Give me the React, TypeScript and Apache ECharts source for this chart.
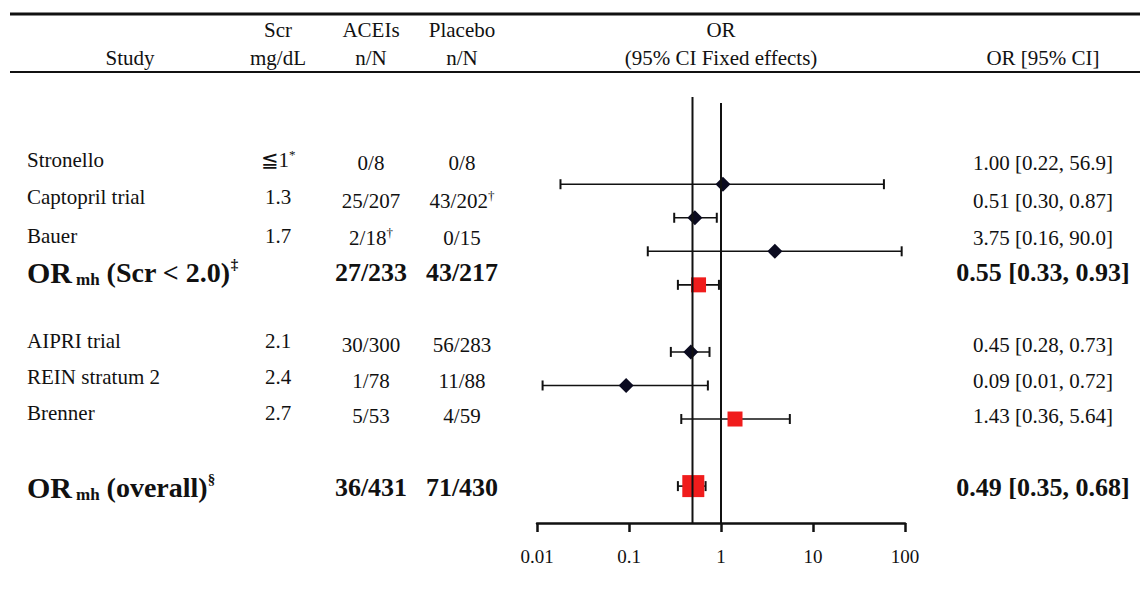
import React, { useEffect, useRef } from 'react';
import * as echarts from 'echarts';

// ---------- data ----------
const studyNames = ['Stronello', 'Captopril trial', 'Bauer', 'OR', 'AIPRI trial', 'REIN stratum 2', 'Brenner', 'OR'];
const pooled = [false, false, false, true, false, false, false, true];
const pooledSuffix = ['', '', '', '(Scr < 2.0)', '', '', '', '(overall)'];
const studyNotes = ['', '', '', '‡', '', '', '', '§'];
const scrValues = ['≦1', '1.3', '1.7', '', '2.1', '2.4', '2.7', ''];
const scrNotes = ['*', '', '', '', '', '', '', ''];
const aceiValues = ['0/8', '25/207', '2/18', '27/233', '30/300', '1/78', '5/53', '36/431'];
const aceiNotes = ['', '', '†', '', '', '', '', ''];
const placeboValues = ['0/8', '43/202', '0/15', '43/217', '56/283', '11/88', '4/59', '71/430'];
const placeboNotes = ['', '†', '', '', '', '', '', ''];
const orTexts = [
  '1.00 [0.22, 56.9]', '0.51 [0.30, 0.87]', '3.75 [0.16, 90.0]', '0.55 [0.33, 0.93]',
  '0.45 [0.28, 0.73]', '0.09 [0.01, 0.72]', '1.43 [0.36, 5.64]', '0.49 [0.35, 0.68]',
];
// plotted values (as drawn)
const rowIndex = [0, 1, 2, 3, 5, 6, 7, 9];
const orPoint = [1.05, 0.52, 3.85, 0.57, 0.47, 0.093, 1.42, 0.5];
const ciLow = [0.018, 0.31, 0.16, 0.34, 0.285, 0.0115, 0.37, 0.34];
const ciHigh = [59, 0.9, 92, 0.95, 0.75, 0.72, 5.6, 0.68];
const refLines = [0.49, 1];
const refLineTop = [-2.6, -2.42];

// ---------- layout ----------
const W = 1140;
const H = 602;
const FONT = "'Liberation Serif', 'Times New Roman', serif";
const textRowY = [160, 197, 236, 272, 341, 377, 413, 487];
const numRowY = [163, 201, 238, 272, 345, 381, 416, 487];
const colStudy = 27;
const colScr = 278;
const colAcei = 371;
const colPlacebo = 462;
const colOr = 1043;
const Y_MIN = -2.6;
const Y_MAX = 10.1;
const NORMAL = 21;
const BOLD = 26;

function richText(main: string, note: string, bold: boolean) {
  return {
    text: note ? `{m|${main}}{s|${note}}` : `{m|${main}}`,
    rich: {
      m: {
        fontFamily: FONT,
        fontSize: bold ? BOLD : NORMAL,
        fontWeight: bold ? 'bold' : 'normal',
        fill: '#111',
        lineHeight: bold ? 28 : 24,
      },
      s: {
        fontFamily: FONT,
        fontSize: bold ? 15 : 13,
        fontWeight: bold ? 'bold' : 'normal',
        fill: '#111',
        lineHeight: 13,
        verticalAlign: 'top',
      },
    },
  };
}

function buildGraphics() {
  const els: any[] = [];
  const header = (text: string, x: number, y: number) => ({
    type: 'text',
    x,
    y,
    style: { text, font: `${NORMAL}px ${FONT}`, fill: '#111', align: 'center', verticalAlign: 'middle' },
  });
  els.push({ type: 'line', shape: { x1: 10, y1: 14, x2: W, y2: 14 }, style: { stroke: '#111', lineWidth: 3 } });
  els.push({ type: 'line', shape: { x1: 10, y1: 72, x2: W, y2: 72 }, style: { stroke: '#111', lineWidth: 2 } });
  els.push(header('Scr', colScr, 30));
  els.push(header('ACEIs', colAcei, 30));
  els.push(header('Placebo', colPlacebo, 30));
  els.push(header('OR', 721, 30));
  els.push(header('Study', 130, 58));
  els.push(header('mg/dL', colScr, 58));
  els.push(header('n/N', colAcei, 58));
  els.push(header('n/N', colPlacebo, 58));
  els.push(header('(95% CI Fixed effects)', 721, 58));
  els.push(header('OR [95% CI]', colOr, 58));

  studyNames.forEach((name, i) => {
    const bold = pooled[i];
    const y = textRowY[i];
    const ny = numRowY[i];
    if (bold) {
      els.push({
        type: 'text',
        x: colStudy,
        y,
        style: {
          text: `{a|${name}}{b|mh}{c| ${pooledSuffix[i]}}{d|${studyNotes[i]}}`,
          align: 'left',
          verticalAlign: 'middle',
          rich: {
            a: { fontFamily: FONT, fontSize: 30, fontWeight: 'bold', fill: '#111', lineHeight: 32 },
            b: { fontFamily: FONT, fontSize: 17, fontWeight: 'bold', fill: '#111', lineHeight: 17, verticalAlign: 'bottom', padding: [0, 0, 0, 4] },
            c: { fontFamily: FONT, fontSize: 28, fontWeight: 'bold', fill: '#111', lineHeight: 32 },
            d: { fontFamily: FONT, fontSize: 15, fontWeight: 'bold', fill: '#111', lineHeight: 15, verticalAlign: 'top' },
          },
        },
      });
    } else {
      els.push({
        type: 'text',
        x: colStudy,
        y,
        style: { text: name, font: `${NORMAL}px ${FONT}`, fill: '#111', align: 'left', verticalAlign: 'middle' },
      });
    }
    if (scrValues[i]) {
      els.push({
        type: 'text',
        x: colScr,
        y,
        style: { ...richText(scrValues[i], scrNotes[i], false), align: 'center', verticalAlign: 'middle' },
      });
    }
    els.push({
      type: 'text',
      x: colAcei,
      y: ny,
      style: { ...richText(aceiValues[i], aceiNotes[i], bold), align: 'center', verticalAlign: 'middle' },
    });
    els.push({
      type: 'text',
      x: colPlacebo,
      y: ny,
      style: { ...richText(placeboValues[i], placeboNotes[i], bold), align: 'center', verticalAlign: 'middle' },
    });
    els.push({
      type: 'text',
      x: colOr,
      y: ny,
      style: {
        text: orTexts[i],
        font: `${bold ? `bold ${BOLD}px` : `${NORMAL}px`} ${FONT}`,
        fill: '#111',
        align: 'center',
        verticalAlign: 'middle',
      },
    });
  });
  return els;
}

export default function App() {
  const ref = useRef<HTMLDivElement>(null);
  useEffect(() => {
    if (!ref.current) return;
    const chart = echarts.init(ref.current, undefined, { renderer: 'svg' });
    const ciData = ciLow.map((lo, i) => [lo, ciHigh[i], rowIndex[i]]);
    const squareIdx = orPoint.map((_, i) => i).filter((i) => pooled[i] || studyNames[i] === 'Brenner');
    const squareData = squareIdx.map((i) => [orPoint[i], rowIndex[i]]);
    const diamondIdx = orPoint.map((_, i) => i).filter((i) => !squareIdx.includes(i));
    const diamondData = diamondIdx.map((i) => [orPoint[i], rowIndex[i]]);

    const option: any = {
      animation: false,
      backgroundColor: '#fff',
      grid: { left: 537, right: W - 905, top: 97, bottom: H - 523 },
      xAxis: {
        type: 'log',
        logBase: 10,
        min: 0.01,
        max: 100,
        axisLine: { show: true, onZero: false, lineStyle: { color: '#111', width: 2.5 } },
        axisTick: { show: true, inside: false, length: 9, lineStyle: { color: '#111', width: 2.5 } },
        axisLabel: {
          color: '#111',
          fontFamily: FONT,
          fontSize: 19,
          margin: 24,
          formatter: (v: number) => String(v),
        },
        splitLine: { show: false },
        minorTick: { show: false },
      },
      yAxis: {
        type: 'value',
        inverse: true,
        min: Y_MIN,
        max: Y_MAX,
        show: false,
        splitLine: { show: false },
      },
      graphic: buildGraphics(),
      series: [
        {
          type: 'custom',
          z: 2,
          encode: { x: [0, 1], y: 2 },
          data: ciData,
          renderItem: (params: any, api: any) => {
            const lo = api.coord([api.value(0), api.value(2)]);
            const hi = api.coord([api.value(1), api.value(2)]);
            const cap = 5;
            return {
              type: 'group',
              children: [
                { type: 'line', shape: { x1: lo[0], y1: lo[1], x2: hi[0], y2: hi[1] }, style: { stroke: '#111', lineWidth: 1.6 } },
                { type: 'line', shape: { x1: lo[0], y1: lo[1] - cap, x2: lo[0], y2: lo[1] + cap }, style: { stroke: '#111', lineWidth: 2 } },
                { type: 'line', shape: { x1: hi[0], y1: hi[1] - cap, x2: hi[0], y2: hi[1] + cap }, style: { stroke: '#111', lineWidth: 2 } },
              ],
            };
          },
        },
        {
          type: 'scatter',
          z: 3,
          symbol: 'diamond',
          symbolSize: 15,
          itemStyle: { color: '#0b0b20', opacity: 1 },
          data: diamondData,
        },
        {
          type: 'scatter',
          z: 3,
          symbol: 'rect',
          symbolSize: (_v: any, p: any) => (p.dataIndex === squareData.length - 1 ? 22 : 15),
          itemStyle: { color: '#f01c1c', opacity: 1 },
          data: squareData,
        },
        ...refLines.map((v, i) => ({
          type: 'line',
          z: 4,
          symbol: 'none',
          lineStyle: { color: '#111', width: 2 },
          data: [
            [v, refLineTop[i]],
            [v, Y_MAX],
          ],
        })),
      ],
    };
    chart.setOption(option);
    return () => chart.dispose();
  }, []);
  return (
    <div
      ref={ref}
      style={{ position: 'fixed', left: 0, top: 0, width: W, height: H, background: '#fff' }}
    />
  );
}
